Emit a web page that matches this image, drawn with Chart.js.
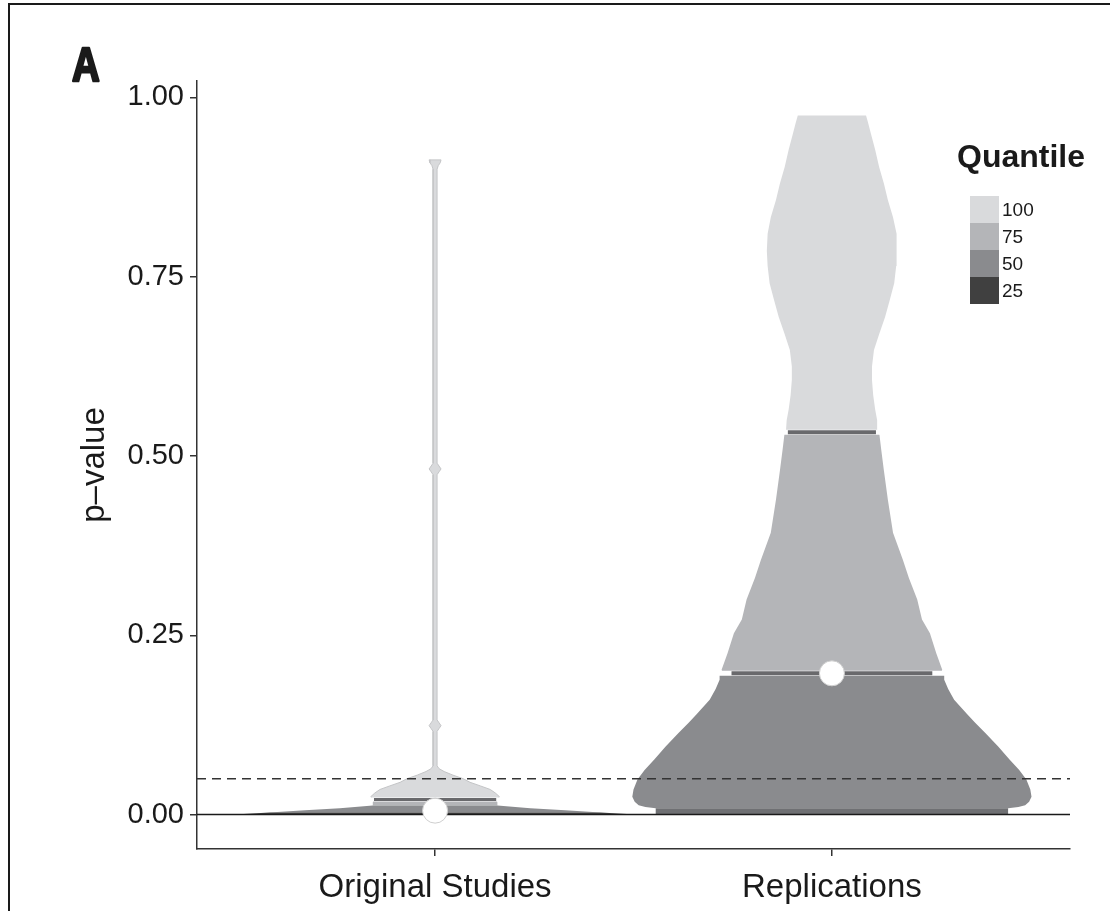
<!DOCTYPE html>
<html>
<head>
<meta charset="utf-8">
<script src="https://cdn.jsdelivr.net/npm/chart.js@4.4.1/dist/chart.umd.min.js"></script>
<style>
  html, body { margin: 0; padding: 0; background: #fff; }
  #wrap { width: 1110px; height: 911px; }
</style>
</head>
<body>
<div id="wrap"><canvas id="myChart" width="1110" height="911"></canvas></div>
<script>
// ==== data
const categories = ['Original Studies', 'Replications'];
const yTicks = [0, 0.25, 0.5, 0.75, 1];
const refLines = [0, 0.05]; // zero line, dashed 0.05 line

const panelLabel = 'A';
const legendTitle = 'Quantile';
const quantileLabels = ['100', '75', '50', '25'];
const quantileColors = ['#d9dadc', '#b4b5b8', '#8a8b8e', '#404040'];

// violin bands: p-values and half widths (x units), one pair per quantile
// Original Studies
const origQ25P = [0, 0.003];
const origQ25W = [0.505, 0.417];
const origQ50P = [0.003, 0.006, 0.009, 0.0125];
const origQ50W = [0.417, 0.328, 0.240, 0.157];
const origQ75P = [0.0125, 0.017, 0.021];
const origQ75W = [0.157, 0.157, 0.155];
const origQ100P = [0.021, 0.025, 0.03, 0.035, 0.04, 0.045, 0.05, 0.055, 0.06, 0.064, 0.068,
  0.116, 0.12, 0.124, 0.128, 0.132, 0.474, 0.478, 0.482, 0.486, 0.49, 0.9, 0.905, 0.909, 0.913];
const origQ100W = [0.157, 0.162, 0.152, 0.139, 0.114, 0.088, 0.071, 0.045, 0.023, 0.010, 0.005,
  0.005, 0.010, 0.015, 0.010, 0.005, 0.005, 0.010, 0.015, 0.010, 0.005, 0.005, 0.008, 0.013, 0.015];

// Replications
const repQ25P = [0, 0.009];
const repQ25W = [0.444, 0.444];
const repQ50P = [0.009, 0.0105, 0.013, 0.018, 0.025, 0.035, 0.049, 0.062, 0.077, 0.095, 0.114,
  0.128, 0.14, 0.16, 0.175, 0.188, 0.197];
const repQ50W = [0.444, 0.470, 0.487, 0.497, 0.503, 0.500, 0.490, 0.472, 0.447, 0.419, 0.386,
  0.361, 0.341, 0.308, 0.293, 0.283, 0.283];
const repQ75P = [0.197, 0.202, 0.225, 0.253, 0.272, 0.30, 0.33, 0.355, 0.393, 0.439, 0.48, 0.51, 0.533];
const repQ75W = [0.275, 0.278, 0.263, 0.247, 0.227, 0.215, 0.194, 0.179, 0.154, 0.141, 0.131, 0.124, 0.119];
const repQ100P = [0.533, 0.55, 0.565, 0.585, 0.606, 0.625, 0.648, 0.67, 0.694, 0.718, 0.741,
  0.765, 0.786, 0.81, 0.833, 0.857, 0.88, 0.903, 0.927, 0.95, 0.965, 0.975];
const repQ100W = [0.116, 0.114, 0.109, 0.104, 0.101, 0.101, 0.106, 0.119, 0.134, 0.146, 0.157,
  0.162, 0.164, 0.162, 0.154, 0.141, 0.131, 0.119, 0.109, 0.098, 0.091, 0.086];

// quantile boundary lines (p, inner dark half width, white gap half width)
const origBoundP = [0.021];
const origBoundW = [0.154];
const origGapW = [0.165];
const repBoundP = [0.197, 0.533];
const repBoundW = [0.253, 0.111];
const repGapW = [0.285, 0.122];

// medians (white dots)
const medianP = [0.0055, 0.197];

// ==== helpers
const FONT = '"Liberation Sans", Arial, Helvetica, sans-serif';

function bandShape(center, ps, ws) {
  const pts = [];
  for (let i = 0; i < ps.length; i++) pts.push({ x: center + ws[i], y: ps[i] });
  for (let i = ps.length - 1; i >= 0; i--) pts.push({ x: center - ws[i], y: ps[i] });
  return pts;
}

function band(center, ps, ws, color, edge) {
  return {
    type: 'line',
    data: bandShape(center, ps, ws),
    backgroundColor: color,
    borderColor: edge || color,
    borderWidth: edge ? 1 : 0,
    fill: 'shape',
    pointRadius: 0,
    tension: 0,
    order: 10
  };
}

function hSeg(center, p, w, color, width, order) {
  return {
    type: 'line',
    data: [{ x: center - w, y: p }, { x: center + w, y: p }],
    borderColor: color,
    borderWidth: width,
    pointRadius: 0,
    fill: false,
    order: order
  };
}

const datasets = [];

// Original Studies at x = 1
datasets.push(band(1, origQ25P, origQ25W, quantileColors[3]));
datasets.push(band(1, origQ50P, origQ50W, quantileColors[2]));
datasets.push(band(1, origQ75P, origQ75W, quantileColors[1]));
datasets.push(band(1, origQ100P, origQ100W, quantileColors[0], '#c4c5c7'));
// Replications at x = 2
datasets.push(band(2, repQ25P, repQ25W, '#6f7073'));
datasets.push(band(2, repQ50P, repQ50W, quantileColors[2]));
datasets.push(band(2, repQ75P, repQ75W, quantileColors[1]));
datasets.push(band(2, repQ100P, repQ100W, quantileColors[0]));

origBoundP.forEach((p, i) => {
  datasets.push(hSeg(1, p, origGapW[i], '#ffffff', 4, 6));
  datasets.push(hSeg(1, p, origBoundW[i], '#69696c', 3, 5));
});
repBoundP.forEach((p, i) => {
  datasets.push(hSeg(2, p, repGapW[i], '#ffffff', 5, 6));
  datasets.push(hSeg(2, p, repBoundW[i], '#69696c', 4, 5));
});

// reference lines across the panel
datasets.push({
  type: 'line',
  data: [{ x: 0.4, y: refLines[0] }, { x: 2.6, y: refLines[0] }],
  borderColor: '#1a1a1a', borderWidth: 1.5, pointRadius: 0, fill: false, order: 2
});
datasets.push({
  type: 'line',
  data: [{ x: 0.4, y: refLines[1] }, { x: 2.6, y: refLines[1] }],
  borderColor: '#333333', borderWidth: 1.5, borderDash: [9, 6], pointRadius: 0, fill: false, order: 2
});

// medians
datasets.push({
  type: 'line',
  data: medianP.map((p, i) => ({ x: i + 1, y: p })),
  showLine: false,
  pointRadius: 12.5,
  pointBackgroundColor: '#ffffff',
  pointBorderColor: '#cfcfcf',
  pointBorderWidth: 1,
  order: 1
});

// ==== frame, panel letter and legend
const decorations = {
  id: 'decorations',
  beforeDraw(chart) {
    const ctx = chart.ctx;
    ctx.save();
    ctx.fillStyle = '#ffffff';
    ctx.fillRect(0, 0, chart.width, chart.height);
    ctx.restore();
  },
  afterDraw(chart) {
    const ctx = chart.ctx;
    ctx.save();
    ctx.strokeStyle = '#1a1a1a';
    ctx.lineWidth = 2;
    ctx.beginPath();
    ctx.moveTo(9, chart.height);
    ctx.lineTo(9, 4);
    ctx.lineTo(chart.width, 4);
    ctx.stroke();

    // condensed heavy panel letter
    ctx.fillStyle = '#1a1a1a';
    ctx.textBaseline = 'alphabetic';
    ctx.save();
    ctx.translate(72, 81);
    ctx.scale(0.8, 1);
    ctx.font = 'bold 48px ' + FONT;
    ctx.lineWidth = 2.5;
    ctx.lineJoin = 'round';
    ctx.strokeText(panelLabel, 0, 0);
    ctx.fillText(panelLabel, 0, 0);
    ctx.restore();

    ctx.font = 'bold 32px ' + FONT;
    ctx.fillText(legendTitle, 957, 167);

    const bx = 970, by = 196, bw = 29, bh = 27;
    ctx.font = '19px ' + FONT;
    ctx.textBaseline = 'middle';
    quantileLabels.forEach((lab, i) => {
      ctx.fillStyle = quantileColors[i];
      ctx.fillRect(bx, by + i * bh, bw, bh);
      ctx.fillStyle = '#1a1a1a';
      ctx.fillText(lab, bx + bw + 3, by + i * bh + bh / 2 + 1);
    });
    ctx.restore();
  }
};

// config
const config = {
  type: 'line',
  data: { datasets },
  options: {
    responsive: false,
    animation: false,
    layout: { padding: { left: 0, top: 81, right: 40, bottom: 0 } },
    plugins: { legend: { display: false }, tooltip: { enabled: false } },
    scales: {
      x: {
        type: 'linear',
        min: 0.4,
        max: 2.6,
        afterBuildTicks: (s) => { s.ticks = categories.map((c, i) => ({ value: i + 1 })); },
        afterFit: (s) => { s.height = 62; },
        ticks: {
          callback: (v) => categories[v - 1],
          color: '#1a1a1a',
          font: { family: FONT, size: 33 },
          padding: 12,
          maxRotation: 0,
          autoSkip: false
        },
        grid: { drawOnChartArea: false, drawTicks: true, tickLength: 7, color: '#333333', lineWidth: 1.5 },
        border: { display: true, color: '#333333', width: 1.5 }
      },
      y: {
        type: 'linear',
        min: -0.048,
        max: 1.023,
        afterBuildTicks: (s) => { s.ticks = yTicks.map((v) => ({ value: v })); },
        afterFit: (s) => { s.width = 197; },
        ticks: {
          callback: (v) => v.toFixed(2),
          color: '#1a1a1a',
          font: { family: FONT, size: 29 },
          padding: 6
        },
        grid: { drawOnChartArea: false, drawTicks: true, tickLength: 7, color: '#333333', lineWidth: 1.5 },
        border: { display: true, color: '#333333', width: 1.5 },
        title: {
          display: true,
          text: 'p\u2013value',
          color: '#1a1a1a',
          font: { family: FONT, size: 33 },
          padding: { top: 75, bottom: 0 }
        }
      }
    }
  },
  plugins: [decorations]
};

const myChart = new Chart(document.getElementById('myChart'), config);
</script>
</body>
</html>
